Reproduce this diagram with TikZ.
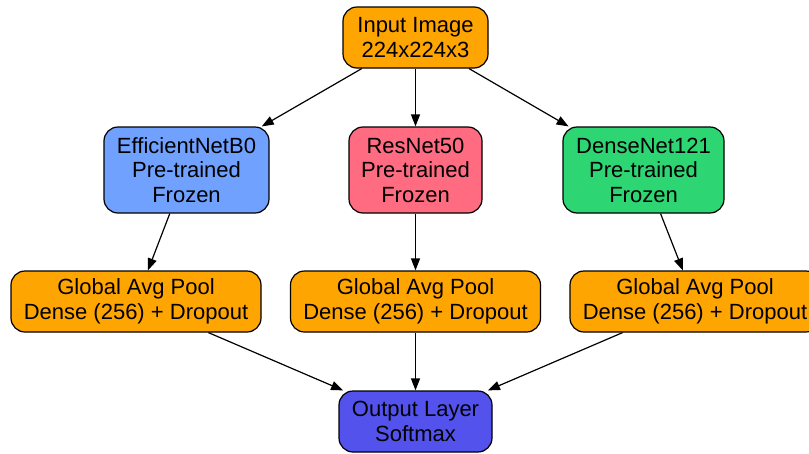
\documentclass[tikz,border=0pt]{standalone}
\usepackage{fontspec}
\setmainfont{Liberation Sans}
\usetikzlibrary{arrows.meta}
\definecolor{cOrange}{HTML}{FFA502}
\definecolor{cBlue}{HTML}{70A1FF}
\definecolor{cRed}{HTML}{FF6B81}
\definecolor{cGreen}{HTML}{2ED573}
\definecolor{cOut}{HTML}{5352ED}
\tikzset{
  box/.style={draw=black, line width=1.2pt, rounded corners=14pt, align=center,
    font=\fontsize{22}{24.5}\selectfont, inner sep=0pt},
  small/.style={box, minimum height=61pt},
  big/.style={box, minimum height=86pt},
  arr/.style={-{Triangle[length=12pt,width=9pt]}, line width=1.2pt}
}
\begin{document}
\begin{tikzpicture}[x=1pt,y=-1pt]
\useasboundingbox (0,0) rectangle (809,453);
\clip (0,0) rectangle (809,453);
\node[small, fill=cOrange, minimum width=145pt] (in) at (415.5,37.5) {Input Image\\224x224x3};
\node[big, fill=cBlue, minimum width=165pt] (eff) at (186.5,170) {EfficientNetB0\\Pre-trained\\Frozen};
\node[big, fill=cRed, minimum width=133pt] (res) at (415.5,170) {ResNet50\\Pre-trained\\Frozen};
\node[big, fill=cGreen, minimum width=161pt] (den) at (643.5,170) {DenseNet121\\Pre-trained\\Frozen};
\node[small, fill=cOrange, minimum width=250pt] (g1) at (136,301.5) {Global Avg Pool\\Dense (256) + Dropout};
\node[small, fill=cOrange, minimum width=250pt] (g2) at (415.5,301.5) {Global Avg Pool\\Dense (256) + Dropout};
\node[small, fill=cOrange, minimum width=250pt] (g3) at (695,301.5) {Global Avg Pool\\Dense (256) + Dropout};
\node[small, fill=cOut, minimum width=153pt] (out) at (415.5,421.5) {Output Layer\\Softmax};
\draw[arr] (in) -- (eff);
\draw[arr] (in) -- (res);
\draw[arr] (in) -- (den);
\draw[arr] (eff) -- (g1);
\draw[arr] (res) -- (g2);
\draw[arr] (den) -- (g3);
\draw[arr] (g1) -- (out);
\draw[arr] (g2) -- (out);
\draw[arr] (g3) -- (out);
\end{tikzpicture}
\end{document}
